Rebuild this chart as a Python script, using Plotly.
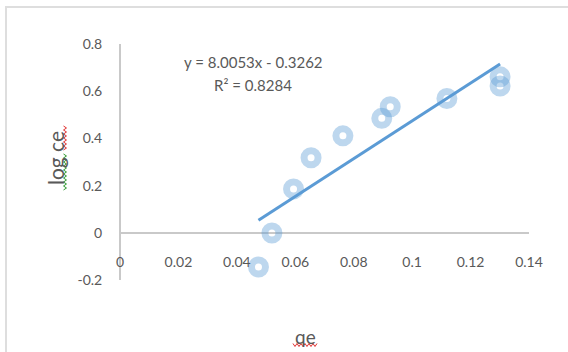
import plotly.graph_objects as go

# Data
qe = [0.0474, 0.0520, 0.0594, 0.0654, 0.0763, 0.0896, 0.0925, 0.1119, 0.1301, 0.1301]
log_ce = [-0.145, -0.001, 0.186, 0.318, 0.411, 0.485, 0.534, 0.569, 0.661, 0.622]

slope = 8.0053
intercept = -0.3262
r2 = 0.8284

x_ticks = [0, 0.02, 0.04, 0.06, 0.08, 0.1, 0.12, 0.14]
x_ticklabels = ["0", "0.02", "0.04", "0.06", "0.08", "0.1", "0.12", "0.14"]
y_ticks = [-0.2, 0, 0.2, 0.4, 0.6, 0.8]
y_ticklabels = ["-0.2", "0", "0.2", "0.4", "0.6", "0.8"]

FONT = "Lato"
GREY = "#595959"
AXIS = "#c9c9c9"

trend_x = [min(qe), max(qe)]
trend_y = [slope * v + intercept for v in trend_x]

fig = go.Figure()
fig.add_trace(go.Scatter(
    x=qe, y=log_ce, mode="markers",
    marker=dict(symbol="circle-open", size=14, color="rgba(91,155,213,0.40)",
                line=dict(width=7, color="rgba(91,155,213,0.40)")),
    showlegend=False, hoverinfo="skip"))
fig.add_trace(go.Scatter(
    x=trend_x, y=trend_y, mode="lines",
    line=dict(color="#5B9BD5", width=3), showlegend=False, hoverinfo="skip"))
# invisible trace to host the tick-label axis
fig.add_trace(go.Scatter(x=trend_x, y=trend_y, xaxis="x2", yaxis="y", mode="lines",
                         line=dict(width=0), opacity=0, showlegend=False, hoverinfo="skip"))


def px_x(p):
    return (p - 120) / 409


def px_y(p):
    return (280 - p) / 236


def squiggle(p0, p1, fixed, vertical, color):
    """Spell-check style wavy underline (decoration)."""
    pts = []
    n = int(abs(p1 - p0) // 2)
    for i in range(n + 1):
        t = p0 + i * 2 * (1 if p1 > p0 else -1)
        o = fixed + (1.5 if i % 2 else -1.5)
        pts.append((o, t) if vertical else (t, o))
    path = "M " + " L ".join(f"{px_x(a):.5f},{px_y(b):.5f}" for a, b in pts)
    return dict(type="path", xref="paper", yref="paper", path=path,
                line=dict(color=color, width=1))


fig.update_layout(
    width=568, height=352,
    margin=dict(l=120, r=39, t=44, b=72),
    paper_bgcolor="white", plot_bgcolor="white",
    font=dict(family=FONT, size=14, color=GREY),
    xaxis=dict(range=[0, 0.14], showgrid=False, showline=False, showticklabels=False,
               zeroline=True, zerolinecolor=AXIS, zerolinewidth=1.5, ticks=""),
    xaxis2=dict(range=[0, 0.14], overlaying="x", anchor="free", position=0.117,
                side="bottom", tickvals=x_ticks, ticktext=x_ticklabels,
                showgrid=False, showline=False, zeroline=False, ticks="",
                tickfont=dict(family=FONT, size=14, color=GREY)),
    yaxis=dict(range=[-0.2, 0.8], showgrid=False, showline=False,
               zeroline=True, zerolinecolor=AXIS, zerolinewidth=1.5,
               tickvals=y_ticks, ticktext=y_ticklabels,
               ticks="outside", ticklen=14, tickcolor="rgba(0,0,0,0)",
               tickfont=dict(family=FONT, size=14, color=GREY)),
    shapes=[
        dict(type="rect", xref="paper", yref="paper",
             x0=px_x(6), x1=1.3, y0=-0.6, y1=px_y(7),
             line=dict(color="#dedede", width=2)),
        squiggle(150, 126, 65, True, "#e03030"),
        squiggle(190, 154, 65, True, "#2e9a2e"),
        squiggle(293, 317, 345, False, "#e03030"),
    ],
    annotations=[
        dict(text=f"y = {slope:.4f}x - {abs(intercept):.4f}", xref="paper", yref="paper",
             x=px_x(253), y=px_y(62), xanchor="center", yanchor="middle", showarrow=False,
             font=dict(family=FONT, size=15, color=GREY)),
        dict(text=f"R² = {r2:.4f}", xref="paper", yref="paper",
             x=px_x(253), y=px_y(85), xanchor="center", yanchor="middle", showarrow=False,
             font=dict(family=FONT, size=15, color=GREY)),
        dict(text="log ce", xref="paper", yref="paper",
             x=px_x(55), y=px_y(158), xanchor="center", yanchor="middle",
             textangle=-90, showarrow=False,
             font=dict(family=FONT, size=21, color=GREY)),
        dict(text="qe", xref="paper", yref="paper",
             x=px_x(305), y=px_y(336), xanchor="center", yanchor="middle", showarrow=False,
             font=dict(family=FONT, size=19, color=GREY)),
    ],
)

fig.write_html("out.html", config={"displayModeBar": False},
               post_script="document.body.style.margin='0';document.body.style.overflow='hidden';")
